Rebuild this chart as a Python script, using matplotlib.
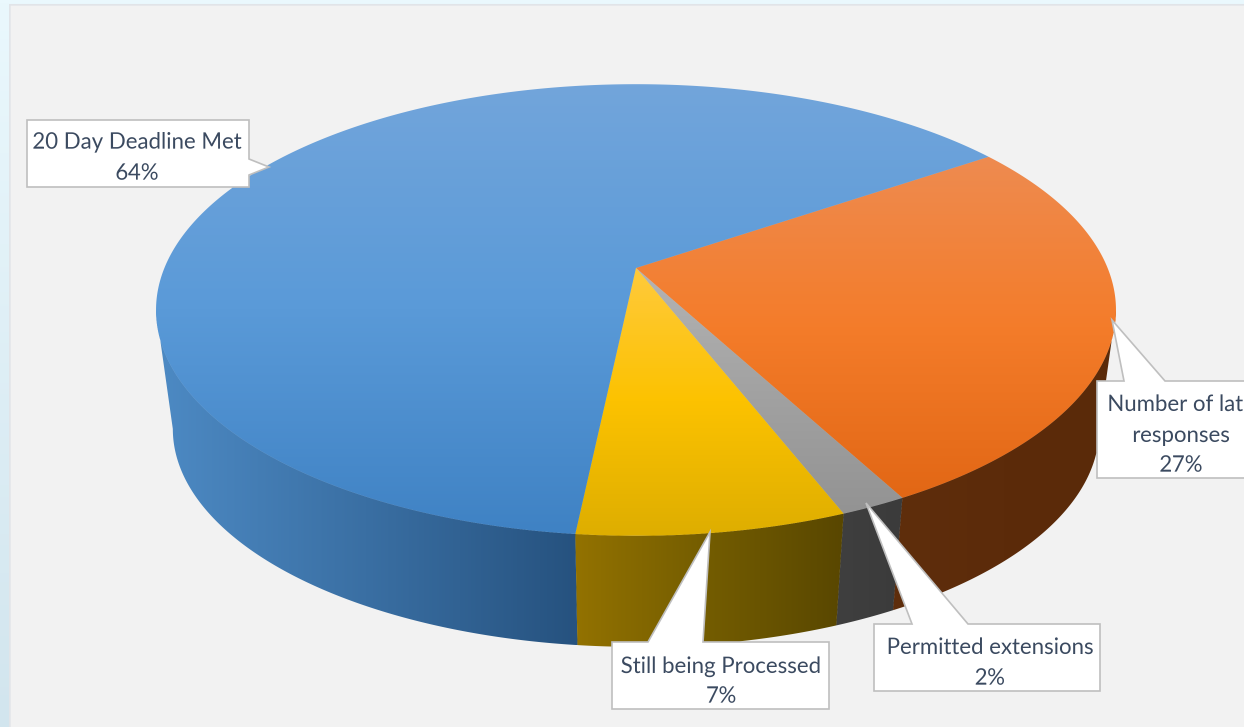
#!/usr/bin/env python3
# 3D looking pie chart, drawn by hand since matplotlib has no perspective pie
import numpy as np
import matplotlib
matplotlib.use("Agg")
import matplotlib.pyplot as plt
from matplotlib.colors import LinearSegmentedColormap
from matplotlib.patches import Polygon

# Data, clockwise from the blue/orange edge
labels = ["Number of late\nresponses", "Permitted extensions", "Still being Processed", "20 Day Deadline Met"]
percent_labels = [27, 2, 7, 64]
# slice sizes, before the rounding of the labels
shares = [26.7, 1.9, 7.6, 63.8]

# gradient stops
top_colors = [
    ["#ee8b50", "#f47c2a", "#e26715"],
    ["#b4b4b4", "#a2a2a2", "#939393"],
    ["#ffca3c", "#fcc200", "#deae00"],
    ["#72a5db", "#5a9ad8", "#3f82c4"],
]
side_colors = [
    ["#5f2e0c", "#5c2b0a", "#5a2a09"],
    ["#3f3f3f", "#3d3d3d", "#3b3b3b"],
    ["#937200", "#735c00", "#594700"],
    ["#4d8ac4", "#3a6fa3", "#26527f"],
]

# projection of the unit disc, in image pixels
CX, CY = 636, 268
A, B, K = 471.6, 218.0, 0.186
DROP, SHRINK = 388.4, 0.965
START = -34.3
SS = 3  # supersampling, clip paths are not antialiased


def project(t, bottom=False):
    x, y = np.cos(t), np.sin(t)
    u = A * x / (1 - K * y)
    v = B * y / (1 - K * y)
    if bottom:
        return CX + SHRINK * u, DROP + SHRINK * v
    return CX + u, CY + v


def gradient_fill(ax, verts, colors, horizontal=False, zorder=2):
    verts = np.array(verts)
    patch = Polygon(verts, closed=True, fc="none", ec="none", transform=ax.transData)
    ax.add_patch(patch)
    cmap = LinearSegmentedColormap.from_list("g", colors)
    grad = np.linspace(0, 1, 256)
    grad = grad.reshape(1, -1) if horizontal else grad.reshape(-1, 1)
    x0, x1 = verts[:, 0].min(), verts[:, 0].max()
    y0, y1 = verts[:, 1].min(), verts[:, 1].max()
    im = ax.imshow(grad, cmap=cmap, extent=(x0, x1, y1, y0), aspect="auto",
                   interpolation="bilinear", zorder=zorder, origin="upper")
    im.set_clip_path(patch)


fig = plt.figure(figsize=(12.44, 7.27), dpi=100 * SS)
ax = fig.add_axes([0, 0, 1, 1])
ax.axis("off")

# backdrop and panel
bg = LinearSegmentedColormap.from_list("bg", ["#eaf8fd", "#d2e5ee"])
ax.imshow(np.linspace(0, 1, 256).reshape(-1, 1), cmap=bg, extent=(0, 1244, 727, 0),
          aspect="auto", zorder=0, origin="upper")
ax.add_patch(Polygon([(9.5, 740), (9.5, 4.5), (1250, 4.5), (1250, 740)], closed=True,
                     fc="#f2f2f2", ec="#e1e4e8", lw=1.2, zorder=1))

# slice angles from the values
angles = np.radians(START + 3.6 * np.cumsum([0] + shares))

# walls, back to front, only between the two silhouette angles
edge = np.arcsin(K)
for i in [0, 3, 1, 2]:
    a0 = max(angles[i], edge)
    a1 = min(angles[i + 1], np.pi - edge)
    t = np.linspace(a0, a1, 200)
    xt, yt = project(t)
    xb, yb = project(t[::-1], bottom=True)
    verts = np.column_stack([np.r_[xt, xb], np.r_[yt, yb]])
    gradient_fill(ax, verts, side_colors[i], horizontal=True, zorder=2)

# top faces
for i in range(4):
    t = np.linspace(angles[i], angles[i + 1], 300)
    xt, yt = project(t)
    verts = np.column_stack([np.r_[CX, xt], np.r_[CY, yt]])
    gradient_fill(ax, verts, top_colors[i], zorder=3)

# callouts: box corners x0, y0, x1, y1 then pointer points
boxes = [
    (1097, 381, 1262, 478),
    (874, 624, 1100, 691),
    (612, 642, 829, 709),
    (27, 120, 249, 187),
]
pointers = [
    [(1124, 381), (1112, 320), (1165, 381)],
    [(912, 624), (866, 503), (968, 624)],
    [(648, 642), (710, 532), (703, 642)],
    [(249, 159), (269, 167), (249, 175)],
]
text_pos = [
    (1181, [403, 434, 464]),
    (990, [646, 677]),
    (721, [665, 695]),
    (137, [141, 172]),
]

for i in range(4):
    x0, y0, x1, y1 = boxes[i]
    p = pointers[i]
    if i == 3:
        outline = [(x0, y0), (x1, y0), p[0], p[1], p[2], (x1, y1), (x0, y1)]
    else:
        # pointer sits on the top edge, left to right
        outline = [(x0, y0), p[0], p[1], p[2], (x1, y0), (x1, y1), (x0, y1)]
    ax.add_patch(Polygon(outline, closed=True, fc="white", ec="#bfbfbf", lw=1.2, zorder=5,
                         joinstyle="miter"))
    lines = labels[i].split("\n") + [f"{percent_labels[i]}%"]
    tx, tys = text_pos[i]
    for line, ty in zip(lines, tys):
        ax.text(tx, ty + 1.5, line, ha="center", va="center", fontsize=16, family="Lato",
                color="#3b4a60", zorder=6)

ax.set_xlim(0, 1244)
ax.set_ylim(727, 0)

# render big, then average down to the final size
fig.canvas.draw()
buf = np.asarray(fig.canvas.buffer_rgba())[:, :, :3].astype(float)
h, w = buf.shape[0] // SS, buf.shape[1] // SS
small = buf[:h * SS, :w * SS].reshape(h, SS, w, SS, 3).mean(axis=(1, 3))
plt.imsave("out.png", small.astype(np.uint8))
